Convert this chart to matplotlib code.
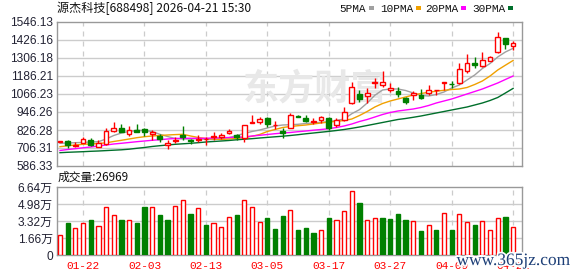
import matplotlib.pyplot as plt
import matplotlib.patheffects as pe
from matplotlib.patches import Rectangle
import numpy as np

plt.rcParams['font.family'] = ['Liberation Sans', 'Noto Sans CJK SC']

W, H = 578, 276

title = '源杰科技[688498] 2026-04-21 15:30'
last_vol = 26969

opens = [748.0, 753.0, 717.6, 739.7, 759.7, 714.9, 731.0, 821.6, 841.6, 797.6,
         826.3, 832.9, 799.6, 788.3, 726.3, 755.0, 793.0, 759.7, 757.6, 763.0,
         777.7, 777.7, 808.3, 791.0, 771.0, 875.0, 879.7, 908.3, 857.6, 819.6,
         841.6, 921.6, 908.3, 877.6, 890.9, 904.3, 859.6, 892.9, 1004.2, 1064.2,
         1054.9, 1139.6, 1126.2, 1092.9, 1086.2, 1037.6, 1059.6, 1059.6, 1070.9, 1090.9,
         1141.6, 1132.9, 1137.6, 1221.5, 1270.8, 1254.9, 1286.2, 1348.2, 1437.5, 1388.2]
highs = [754.6, 756.4, 748.0, 781.7, 775.0, 759.7, 841.6, 881.6, 866.3, 854.9,
         864.3, 841.6, 826.3, 797.6, 759.7, 777.7, 852.9, 764.4, 793.0, 777.7,
         815.0, 808.3, 831.0, 799.6, 859.6, 926.3, 914.9, 914.9, 888.3, 837.6,
         937.6, 928.3, 926.3, 904.3, 917.6, 914.9, 904.3, 981.6, 1144.2, 1092.9,
         1104.2, 1170.9, 1219.5, 1137.6, 1112.9, 1048.3, 1086.2, 1099.6, 1126.2, 1092.9,
         1144.2, 1152.9, 1270.8, 1330.9, 1310.9, 1344.2, 1319.5, 1477.5, 1437.5, 1419.5]
lows = [744.0, 708.4, 714.9, 737.7, 719.7, 711.0, 726.3, 814.9, 814.9, 786.3,
        810.9, 788.3, 759.7, 744.3, 699.7, 741.6, 759.7, 733.0, 748.3, 726.3,
        759.7, 764.4, 799.6, 759.7, 748.3, 875.0, 866.3, 848.3, 830.9, 770.9,
        837.6, 910.9, 881.6, 864.3, 870.9, 826.3, 848.3, 886.3, 997.6, 1014.9,
        1004.2, 1104.2, 1114.9, 1081.6, 1048.3, 997.6, 1026.3, 1032.9, 1059.6, 1059.6,
        1092.9, 1108.2, 1130.9, 1208.2, 1241.5, 1248.2, 1284.2, 1337.5, 1366.2, 1359.5]
closes = [750.6, 726.3, 728.0, 766.4, 726.3, 737.7, 819.6, 837.6, 814.9, 824.3,
          814.9, 810.9, 814.9, 766.4, 737.7, 759.7, 777.7, 750.6, 766.4, 764.4,
          786.3, 793.0, 821.6, 777.7, 859.6, 881.6, 901.6, 864.3, 859.6, 808.3,
          926.3, 914.9, 886.3, 884.3, 910.9, 837.6, 892.9, 948.3, 1114.9, 1032.9,
          1070.9, 1148.2, 1144.2, 1108.2, 1066.3, 1010.9, 1074.9, 1041.6, 1095.0, 1092.9,
          1144.2, 1130.9, 1230.9, 1270.8, 1259.5, 1292.9, 1314.9, 1448.2, 1399.5, 1404.2]

ma5 = [737.7, 739.7, 741.7, 743.6, 746.3, 748.3, 766.3, 789.7, 806.3, 816.3,
       824.3, 823.0, 816.3, 797.6, 783.0, 769.7, 766.3, 766.3, 769.7, 763.0,
       763.0, 769.7, 775.0, 789.7, 803.0, 816.3, 826.3, 839.6, 853.0, 859.6,
       861.6, 864.3, 869.6, 873.0, 877.6, 881.6, 889.6, 899.6, 935.0, 962.0,
       1006.0, 1058.0, 1092.9, 1099.6, 1099.6, 1089.6, 1072.9, 1056.3, 1052.9, 1062.9,
       1079.6, 1106.2, 1126.2, 1159.6, 1192.9, 1236.2, 1269.5, 1312.9, 1346.2, 1370.8]
ma10 = [715.0, 721.0, 726.3, 731.0, 733.0, 736.4, 741.0, 749.7, 757.7, 766.3,
        775.0, 781.6, 786.3, 789.7, 793.0, 795.6, 797.6, 786.3, 776.3, 769.7,
        766.3, 763.0, 766.3, 769.7, 776.3, 784.3, 796.3, 816.3, 829.6, 843.0,
        849.6, 854.9, 859.6, 866.3, 873.0, 879.6, 884.3, 889.6, 899.6, 922.9,
        949.6, 979.6, 1002.9, 1019.6, 1032.9, 1046.3, 1059.6, 1069.6, 1077.6, 1084.9,
        1090.9, 1096.2, 1099.6, 1109.6, 1129.6, 1152.9, 1186.2, 1226.2, 1258.2, 1289.6]
ma20 = [689.7, 696.3, 701.6, 707.7, 713.0, 719.7, 726.3, 733.0, 737.7, 743.0,
        748.3, 753.0, 757.7, 761.7, 766.3, 769.7, 771.0, 771.0, 771.0, 771.0,
        773.0, 774.3, 776.3, 777.6, 779.6, 786.3, 791.0, 796.3, 801.6, 806.3,
        809.6, 815.0, 819.6, 825.0, 829.6, 835.0, 843.0, 853.0, 866.3, 883.0,
        896.3, 912.9, 929.6, 943.0, 952.9, 959.6, 966.3, 976.3, 989.6, 1006.3,
        1019.6, 1032.9, 1049.6, 1066.3, 1082.9, 1099.6, 1119.6, 1139.6, 1163.0, 1186.2]
ma30 = [675.0, 677.7, 679.7, 681.7, 684.3, 686.3, 689.0, 691.7, 694.3, 698.4,
        704.3, 709.7, 716.4, 721.6, 726.3, 731.0, 734.3, 737.7, 741.7, 746.3,
        749.7, 753.0, 756.4, 761.0, 765.0, 768.4, 773.0, 777.0, 781.0, 785.0,
        789.7, 795.0, 801.0, 806.3, 811.6, 817.0, 823.0, 829.6, 837.6, 846.3,
        856.3, 866.3, 876.3, 886.3, 896.3, 903.0, 911.0, 919.6, 929.6, 939.6,
        949.6, 959.6, 969.6, 979.6, 992.9, 1006.3, 1023.0, 1043.0, 1072.9, 1103.5]

# volume in 万
volume = [1.92, 3.12, 2.60, 3.12, 3.38, 2.80, 4.65, 3.87, 3.38, 3.38,
          3.12, 4.65, 4.65, 3.90, 3.38, 4.75, 5.33, 4.00, 4.55, 2.93,
          3.12, 2.70, 3.68, 3.90, 5.33, 4.65, 3.22, 3.61, 2.54, 3.80,
          4.36, 2.44, 2.64, 2.15, 2.41, 3.61, 3.38, 4.26, 6.21, 5.07,
          3.38, 3.61, 3.61, 3.51, 4.00, 3.42, 3.29, 2.34, 2.93, 2.44,
          4.10, 2.44, 4.00, 3.22, 2.93, 3.29, 2.44, 3.58, 3.71, 2.6969]

date_idx = [3, 11, 19, 27, 35, 43, 51, 59]
date_labels = ['01-22', '02-03', '02-13', '03-05', '03-17', '03-27', '04-09', '04-21']
price_ticks = [586.33, 706.31, 826.28, 946.26, 1066.23, 1186.21, 1306.18, 1426.16, 1546.13]
vol_ticks = [0, 1.66, 3.32, 4.98, 6.64]

ma_names = ['5PMA', '10PMA', '20PMA', '30PMA']
ma_colors = ['#a0a0a0', '#f0a000', '#ff00ff', '#006f2b']
RED = '#ff0000'
GREEN = '#008000'

o = np.array(opens); c = np.array(closes)
hi = np.array(highs); lo = np.array(lows)
x = np.arange(len(o))
up = c >= o
prev = np.concatenate([[o[0]], c[:-1]])
vol_up = c >= prev


def frac(px_left, px_top, px_w, px_h):
    return [px_left / W, 1 - (px_top + px_h) / H, px_w / W, px_h / H]


fig = plt.figure(figsize=(W / 100, H / 100), dpi=100)
ax = fig.add_axes(frac(57, 22, 465, 144))
axv = fig.add_axes(frac(57, 187, 465, 68))

xlim = (-0.39, 60.16)
for a in (ax, axv):
    a.set_xlim(*xlim)
    for s in a.spines.values():
        s.set_color('#999999')
        s.set_linewidth(1.0)
    a.tick_params(length=0, pad=3, labelsize=8.6, colors='#222233')
    a.set_xticks([])
    for xi in date_idx:
        a.axvline(xi, color='#cccccc', lw=0.9, ls=(0, (4, 4)), zorder=0)

# price panel
ax.set_ylim(price_ticks[0], price_ticks[-1])
ax.set_yticks(price_ticks)
ax.set_yticklabels([f'{t:.2f}' for t in price_ticks])
for t in price_ticks[1:-1]:
    ax.axhline(t, color='#cccccc', lw=1.0, zorder=0)

ax.text(0.555, 0.535, '东方财富', transform=ax.transAxes, fontsize=26,
        fontweight='bold', color='#e8e8e8', ha='center', va='center',
        family=['Noto Sans CJK SC'], zorder=0)

for ma, col in zip([ma5, ma10, ma20, ma30], ma_colors):
    ax.plot(x, ma, color=col, lw=1.0, zorder=2)

ax.vlines(x[up], lo[up], hi[up], color=RED, lw=1.0, zorder=3)
ax.vlines(x[~up], lo[~up], hi[~up], color=GREEN, lw=1.0, zorder=3)
body_lo = np.minimum(o, c)
body_h = np.abs(c - o)
ax.bar(x[up], body_h[up], bottom=body_lo[up], width=0.62,
       facecolor='white', edgecolor=RED, lw=1.0, zorder=4)
ax.bar(x[~up], body_h[~up], bottom=body_lo[~up], width=0.62,
       facecolor=GREEN, edgecolor=GREEN, lw=1.0, zorder=4)

# volume panel
axv.set_ylim(vol_ticks[0], vol_ticks[-1])
axv.set_yticks(vol_ticks)
axv.set_yticklabels(['0'] + [f'{t:.2f}万' for t in vol_ticks[1:]])
for t in vol_ticks[1:-1]:
    axv.axhline(t, color='#cccccc', lw=1.0, zorder=0)
v = np.array(volume)
axv.bar(x[vol_up], v[vol_up], width=0.55, facecolor='white',
        edgecolor=RED, lw=1.0, zorder=3)
axv.bar(x[~vol_up], v[~vol_up], width=0.55, facecolor=GREEN,
        edgecolor=GREEN, lw=1.0, zorder=3)

for xi, lab in zip(date_idx, date_labels):
    axv.text(xi, -0.16, lab, transform=axv.get_xaxis_transform(),
             ha='center', va='center', color=RED, fontsize=8,
             family=['Liberation Mono'])

# header texts
fig.text(57 / W, 1 - 8 / H, title, ha='left', va='center', fontsize=8.7,
         color='#111111', family=['Noto Sans CJK SC'])
fig.text(58 / W, 1 - 177 / H, f'成交量:{last_vol}', ha='left', va='center',
         fontsize=8.5, color='#111111', family=['Noto Sans CJK SC'])

leg_x = [339, 380, 425, 472]
for name, col, lx in zip(ma_names, ma_colors, leg_x):
    t = fig.text(lx / W, 1 - 8.5 / H, name, ha='left', va='center',
                 fontsize=8, color='#111111', family=['Liberation Mono'])
    fig.canvas.draw()
    bb = t.get_window_extent()
    fig.patches.append(Rectangle(((bb.x1 + 3) / W, 1 - 10 / H), 5 / W, 3.5 / H,
                                 transform=fig.transFigure, facecolor=col,
                                 edgecolor='none'))

wm = fig.text(513 / W, 1 - 261 / H, 'www.365jz.com', ha='center', va='center',
              fontsize=12.5, color='#1d3f77', family=['Liberation Serif'])
wm.set_path_effects([pe.withStroke(linewidth=2.5, foreground='white')])

fig.savefig('out.png', dpi=100)
